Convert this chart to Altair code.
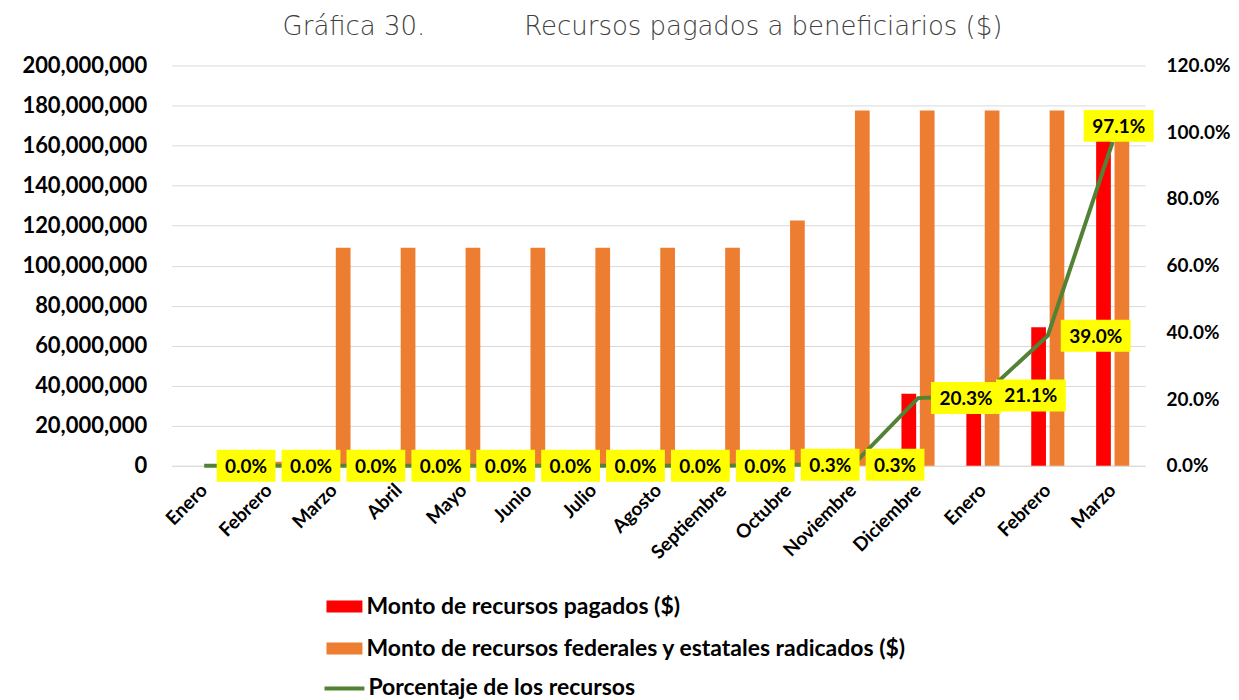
import altair as alt
import pandas as pd

meses = ["Enero", "Febrero", "Marzo", "Abril", "Mayo", "Junio", "Julio", "Agosto",
         "Septiembre", "Octubre", "Noviembre", "Diciembre", "Enero", "Febrero", "Marzo"]
pagado = [0, 0, 0, 0, 0, 0, 0, 0, 0, 0.5e6, 0.5e6, 36.0e6, 37.5e6, 69.2e6, 172.4e6]
radicado = [0, 2.0e6, 109e6, 109e6, 109e6, 109e6, 109e6, 109e6, 109e6, 122.5e6,
            177.5e6, 177.5e6, 177.5e6, 177.5e6, 177.5e6]
porcentaje = [0, 0, 0, 0, 0, 0, 0, 0, 0, 0.003, 0.003, 0.203, 0.211, 0.390, 0.971]

S_PAG = "Monto de recursos pagados ($)"
S_RAD = "Monto de recursos federales y estatales radicados ($)"
S_PCT = "Porcentaje de los recursos"

keys = [f"{m}|{i}" for i, m in enumerate(meses)]
df = pd.DataFrame({"mes": keys, S_PAG: pagado, S_RAD: radicado, "pct": porcentaje})

FONT = "Lato"
x_enc = alt.X("mes:N", sort=keys, title=None,
              scale=alt.Scale(paddingInner=0.49, paddingOuter=0.245),
              axis=alt.Axis(labelExpr="split(datum.value, '|')[0]", labelAngle=-45,
                            labelAlign="right", labelBaseline="middle", labelPadding=21,
                            labelFont=FONT, labelFontWeight="bold", labelFontSize=19,
                            labelColor="#000000", ticks=False, domainColor="#d9d9d9",
                            grid=False))

base = alt.Chart(df)

bars = base.transform_fold([S_PAG, S_RAD], as_=["serie", "valor"]).mark_bar().encode(
    x=x_enc,
    xOffset=alt.XOffset("serie:N", sort=[S_PAG, S_RAD],
                        scale=alt.Scale(paddingInner=0.2, paddingOuter=0)),
    y=alt.Y("valor:Q", title=None,
            scale=alt.Scale(domain=[0, 200e6], nice=False),
            axis=alt.Axis(values=[i * 20e6 for i in range(11)], format=",d",
                          labelFont=FONT, labelFontWeight="bold", labelFontSize=22,
                          labelColor="#000000", labelPadding=25, ticks=False,
                          domain=False, grid=True, gridColor="#d9d9d9", minExtent=159)),
    color=alt.Color("serie:N", sort=[S_PAG, S_RAD],
                    scale=alt.Scale(domain=[S_PAG, S_RAD], range=["#FF0000", "#ED7D31"]),
                    legend=alt.Legend(title=None, orient="none", legendX=161, legendY=530,
                                      direction="vertical",
                                      symbolType="M-1.5,-0.5L1.5,-0.5L1.5,0.5L-1.5,0.5Z",
                                      symbolSize=576, symbolStrokeWidth=0,
                                      labelFont=FONT, labelFontWeight="bold",
                                      labelFontSize=23, labelColor="#000000",
                                      labelLimit=800, rowPadding=18, labelOffset=10)),
)

y_pct = alt.Y("pct:Q", title=None,
              scale=alt.Scale(domain=[0, 1.2], nice=False),
              axis=alt.Axis(values=[0, 0.2, 0.4, 0.6, 0.8, 1.0, 1.2], format=".1%",
                            orient="right", labelFont=FONT, labelFontWeight="bold",
                            labelFontSize=19, labelColor="#000000", labelPadding=21,
                            ticks=False, domain=False, grid=False))

line = base.transform_calculate(serie_l=f"'{S_PCT}'").mark_line(strokeWidth=4).encode(
    x=x_enc,
    y=y_pct,
    stroke=alt.Stroke("serie_l:N",
                      scale=alt.Scale(domain=[S_PCT], range=["#548235"]),
                      legend=alt.Legend(title=None, orient="none", legendX=151, legendY=602,
                                        symbolType="stroke", symbolSize=1600,
                                        symbolStrokeWidth=4,
                                        labelFont=FONT, labelFontWeight="bold",
                                        labelFontSize=23, labelColor="#000000",
                                        labelLimit=800, labelOffset=2)),
)

SHORT = "M-1.84,-1L1.84,-1L1.84,1L-1.84,1Z"
LONG = "M-2.19,-1L2.19,-1L2.19,1L-2.19,1Z"

def box(cond, shape, dx, dy):
    return base.transform_filter(cond).mark_point(
        shape=shape, size=1024, filled=True, fill="#FFFF00", opacity=1,
        strokeWidth=0, xOffset=dx, yOffset=dy
    ).encode(x=x_enc, y=y_pct)

def txt(cond, dx, dy):
    return base.transform_filter(cond).mark_text(
        font=FONT, fontWeight="bold", fontSize=19, color="#000000",
        align="center", baseline="middle", dx=dx, dy=dy
    ).encode(x=x_enc, y=y_pct, text=alt.Text("pct:Q", format=".1%"))

c_short = "datum.pct < 0.1"
c_long = "datum.pct >= 0.1 && datum.pct < 0.9"
c_top = "datum.pct >= 0.9"

pct_layer = alt.layer(
    line,
    box(c_short, SHORT, 42, 0), box(c_long, LONG, 48, 0), box(c_top, LONG, 6, -16),
    txt(c_short, 42, 1), txt(c_long, 48, 1), txt(c_top, 6, -15),
)

gap = "\u00a0" * 12
chart = alt.layer(bars, pct_layer).resolve_scale(
    y="independent", color="independent"
).properties(
    width=975, height=401,
    padding={"left": 5, "top": 5, "right": 0, "bottom": 0},
    title=alt.TitleParams(
        f"Gráfica 30.{gap}Recursos pagados a beneficiarios ($)",
        font="DejaVu Sans", fontSize=26, fontWeight=200, color="#404040",
        anchor="middle", frame="group", dx=-16, offset=15),
).configure_view(stroke=None)

chart.save("out.html", embed_options={"renderer": "svg", "actions": False})
